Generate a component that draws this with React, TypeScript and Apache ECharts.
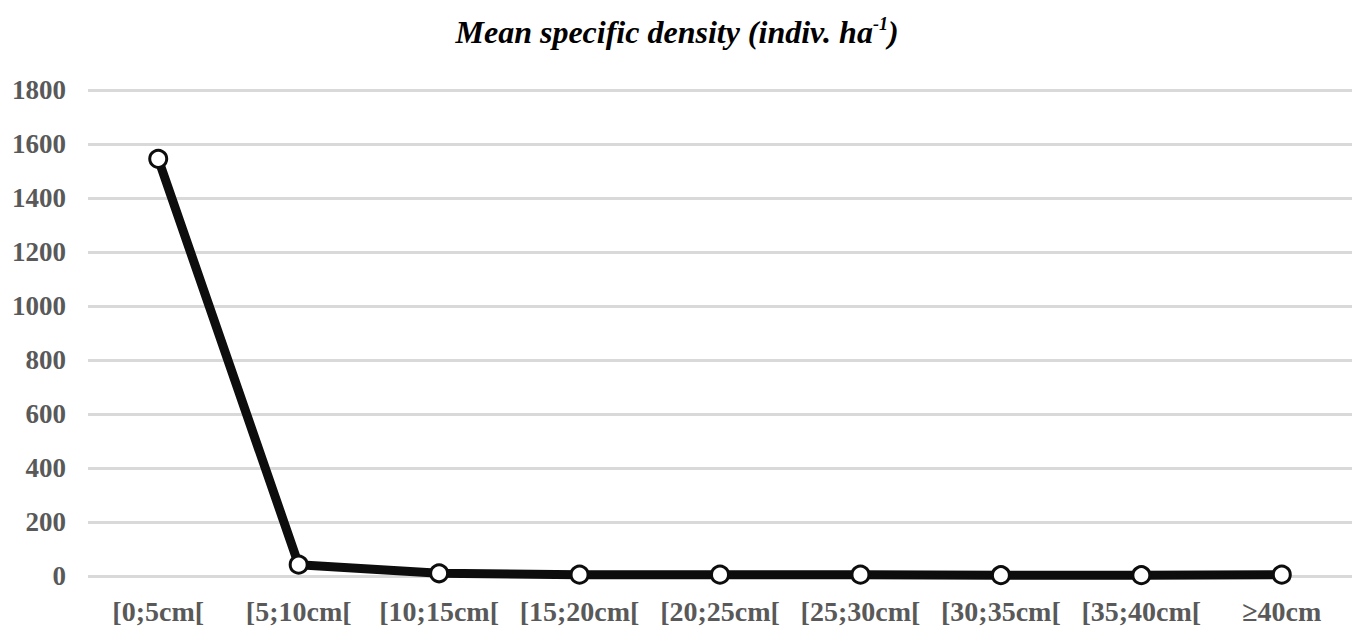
import React, { useEffect, useRef } from "react";
import * as echarts from "echarts";

const categories = ["[0;5cm[", "[5;10cm[", "[10;15cm[", "[15;20cm[", "[20;25cm[", "[25;30cm[", "[30;35cm[", "[35;40cm[", "≥40cm"];
const densityValues = [1545, 42, 10, 5, 5, 5, 3, 3, 5];
const yTicks = { min: 0, max: 1800, interval: 200 };

export default function App() {
  const ref = useRef<HTMLDivElement>(null);
  useEffect(() => {
    if (!ref.current) return;
    const chart = echarts.init(ref.current, null, { renderer: "svg" });
    const font = "'Liberation Serif', 'Times New Roman', serif";
    chart.setOption({
      animation: false,
      backgroundColor: "#ffffff",
      title: {
        text: "{t|Mean specific density (indiv. ha}{s|-1}{t|)}",
        left: "center",
        top: 10,
        textStyle: {
          rich: {
            t: { fontFamily: font, fontSize: 32, fontWeight: "bold", fontStyle: "italic", color: "#000" },
            s: { fontFamily: font, fontSize: 18, fontWeight: "bold", fontStyle: "italic", color: "#000", verticalAlign: "top", padding: [0, 0, 16, 0] },
          },
        },
      },
      grid: { left: 88, right: 2, top: 90, bottom: 60, containLabel: false },
      xAxis: {
        type: "category",
        data: categories,
        boundaryGap: true,
        axisLine: { show: false },
        axisTick: { show: false },
        axisLabel: { fontFamily: font, fontSize: 28, fontWeight: "bold", color: "#595959", margin: 21, interval: 0 },
      },
      yAxis: {
        type: "value",
        min: yTicks.min,
        max: yTicks.max,
        interval: yTicks.interval,
        axisLine: { show: false },
        axisTick: { show: false },
        axisLabel: { fontFamily: font, fontSize: 27, fontWeight: "bold", color: "#595959", margin: 22, formatter: (v: number) => String(v) },
        splitLine: { lineStyle: { color: "#d9d9d9", width: 3 } },
      },
      series: [
        {
          type: "line",
          data: densityValues,
          symbol: "circle",
          symbolSize: 17,
          lineStyle: { color: "#0d0d0d", width: 9 },
          itemStyle: { color: "#ffffff", borderColor: "#0d0d0d", borderWidth: 3 },
          z: 3,
        },
      ],
    });
    return () => chart.dispose();
  }, []);
  return <div ref={ref} style={{ width: 1354, height: 636, position: "absolute", left: 0, top: 0 }} />;
}
